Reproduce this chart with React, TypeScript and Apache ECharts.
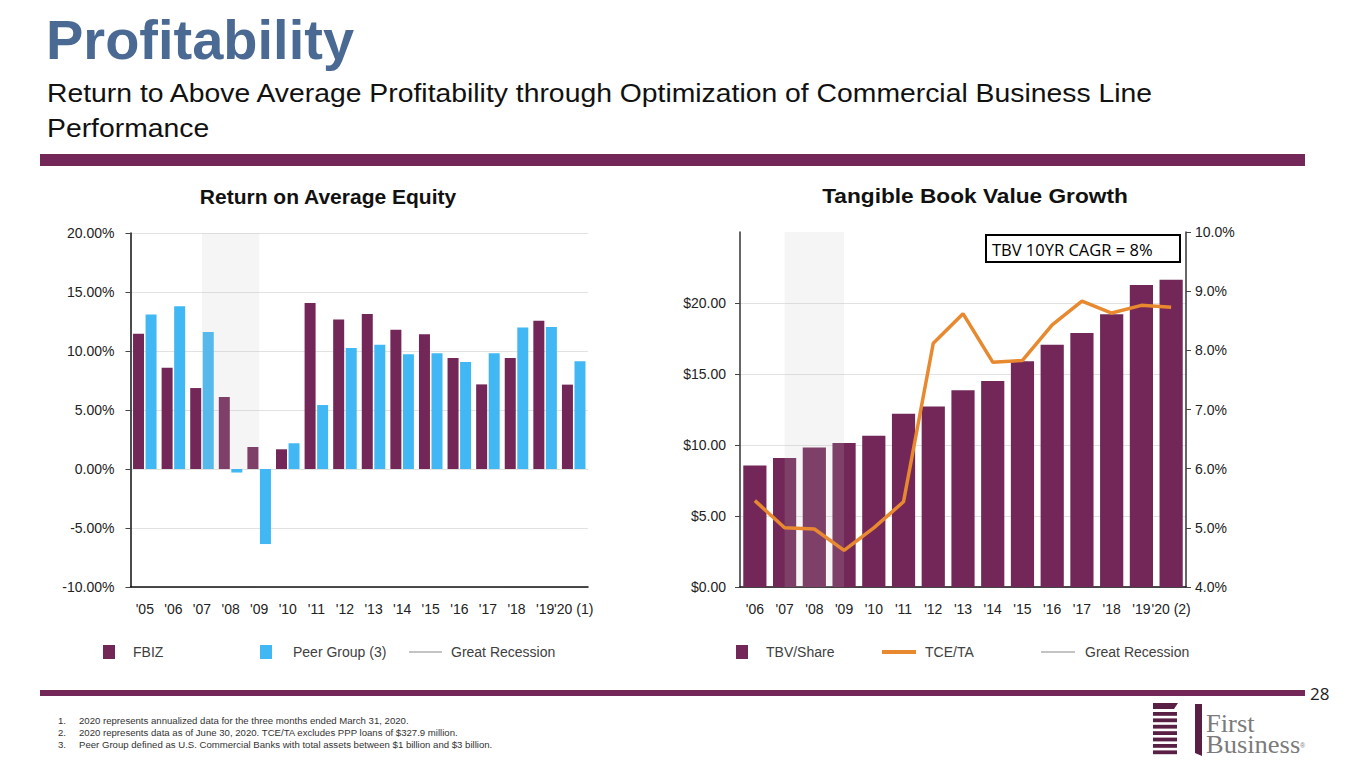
import React, { useEffect, useRef } from "react";
import * as echarts from "echarts";

// ---------- data ----------
const roaeYears = ["'05", "'06", "'07", "'08", "'09", "'10", "'11", "'12", "'13", "'14", "'15", "'16", "'17", "'18", "'19", "'20 (1)"];
const fbizRoae = [11.47, 8.59, 6.86, 6.1, 1.86, 1.67, 14.07, 12.68, 13.14, 11.81, 11.41, 9.41, 7.17, 9.41, 12.57, 7.15];
const peerRoae = [13.1, 13.8, 11.6, -0.3, -6.36, 2.18, 5.42, 10.25, 10.54, 9.72, 9.8, 9.07, 9.8, 12.0, 12.03, 9.13];

const tbvYears = ["'06", "'07", "'08", "'09", "'10", "'11", "'12", "'13", "'14", "'15", "'16", "'17", "'18", "'19", "'20 (2)"];
const tbvShare = [8.56, 9.08, 9.83, 10.14, 10.65, 12.2, 12.72, 13.85, 14.5, 15.89, 17.06, 17.89, 19.2, 21.27, 21.64];
const tceTa = [5.46, 5.0, 4.98, 4.62, 5.0, 5.44, 8.12, 8.62, 7.8, 7.83, 8.43, 8.83, 8.63, 8.76, 8.73];

const recessionStart = "'07";
const recessionEnd = "'09";

const footnotes = [
  "2020 represents annualized data for the three months ended March 31, 2020.",
  "2020 represents data as of June 30, 2020. TCE/TA excludes PPP loans of $327.9 million.",
  "Peer Group defined as U.S. Commercial Banks with total assets between $1 billion and $3 billion.",
];

// ---------- styles ----------
const PURPLE = "#722758";
const BLUE = "#41b8f4";
const ORANGE = "#e8892f";
const GRID = "#e2e2e2";
const FONT = '"Liberation Sans", Arial, Helvetica, sans-serif';

export default function App() {
  const ref = useRef<HTMLDivElement>(null);

  useEffect(() => {
    if (!ref.current) return;
    const chart = echarts.init(ref.current, undefined, { renderer: "svg" });

    const legendText = { fontSize: 14, color: "#404040", fontFamily: FONT };
    const bandStyle = { color: "rgb(190,190,190)", opacity: 0.16 };
    const legendBase = { top: 645, padding: 0, icon: "rect", selectedMode: false };

    const stripes: any[] = [];
    for (let i = 0; i < 7; i++) {
      stripes.push({
        type: "rect",
        shape: { x: 1153, y: 712 + i * 6.4, width: 24, height: 3.8 },
        style: { fill: "#5a1f44" },
      });
    }

    const option: any = {
      animation: false,
      textStyle: { fontFamily: FONT },
      graphic: [
        {
          type: "text",
          x: 46,
          y: 39,
          style: { text: "Profitability", font: `bold 56px ${FONT}`, fill: "#4a6a94", align: "left", verticalAlign: "middle" },
        },
        {
          type: "text",
          x: 47,
          y: 93,
          scaleX: 1.09,
          style: {
            text: "Return to Above Average Profitability through Optimization of Commercial Business Line",
            font: `26px ${FONT}`,
            fill: "#111",
            align: "left",
            verticalAlign: "middle",
          },
        },
        {
          type: "text",
          x: 47,
          y: 128,
          scaleX: 1.09,
          style: { text: "Performance", font: `26px ${FONT}`, fill: "#111", align: "left", verticalAlign: "middle" },
        },
        { type: "rect", shape: { x: 40, y: 154, width: 1265, height: 12 }, style: { fill: PURPLE } },
        {
          type: "text",
          x: 328,
          y: 196,
          style: { text: "Return on Average Equity", font: `bold 21px ${FONT}`, fill: "#111", align: "center", verticalAlign: "middle" },
        },
        {
          type: "text",
          x: 975,
          y: 196,
          scaleX: 1.08,
          style: { text: "Tangible Book Value Growth", font: `bold 21px ${FONT}`, fill: "#111", align: "center", verticalAlign: "middle" },
        },
        {
          type: "rect",
          shape: { x: 986, y: 235, width: 194, height: 27 },
          style: { fill: "#fff", stroke: "#000", lineWidth: 2 },
          z: 100,
        },
        {
          type: "text",
          x: 992,
          y: 249,
          z: 101,
          style: { text: "TBV 10YR CAGR = 8%", font: `16.5px "Open Sans", "Noto Sans", sans-serif`, fill: "#000", align: "left", verticalAlign: "middle" },
        },
        { type: "rect", shape: { x: 40, y: 690, width: 1265, height: 6 }, style: { fill: PURPLE } },
        {
          type: "text",
          x: 1310,
          y: 693,
          style: { text: "28", font: `17px "Open Sans", "Noto Sans", sans-serif`, fill: "#222", align: "left", verticalAlign: "middle" },
        },
        ...footnotes.flatMap((t, i) => [
          {
            type: "text",
            x: 58,
            y: 720 + i * 12,
            style: { text: `${i + 1}.`, font: `9.6px ${FONT}`, fill: "#333", align: "left", verticalAlign: "middle" },
          },
          {
            type: "text",
            x: 79,
            y: 720 + i * 12,
            style: { text: t, font: `9.6px ${FONT}`, fill: "#333", align: "left", verticalAlign: "middle" },
          },
        ]),
        // logo
        {
          type: "polygon",
          shape: { points: [[1153, 703], [1178, 703], [1174, 709], [1153, 709]] },
          style: { fill: "#5a1f44" },
        },
        ...stripes,
        {
          type: "polygon",
          shape: { points: [[1195, 704], [1202, 704], [1202, 756], [1195, 753]] },
          style: { fill: "#5a1f44" },
        },
        {
          type: "text",
          x: 1206,
          y: 734,
          scaleX: 1.06,
          style: {
            text: "First\nBusiness",
            font: `25px "Liberation Serif", "DejaVu Serif", serif`,
            lineHeight: 21,
            fill: "#7b7b7b",
            align: "left",
            verticalAlign: "middle",
          },
        },
        {
          type: "text",
          x: 1300,
          y: 745,
          style: { text: "®", font: `7px ${FONT}`, fill: "#7b7b7b", align: "left", verticalAlign: "middle" },
        },
      ],
      legend: [
        { ...legendBase, data: ["FBIZ"], left: 103, itemWidth: 12, itemHeight: 14, textStyle: { ...legendText, padding: [0, 0, 0, 13] } },
        { ...legendBase, data: ["Peer Group (3)"], left: 260, itemWidth: 12, itemHeight: 14, textStyle: { ...legendText, padding: [0, 0, 0, 16] } },
        { ...legendBase, data: ["Great Recession"], left: 409, itemWidth: 33, itemHeight: 2, textStyle: { ...legendText, padding: [0, 0, 0, 4] } },
        { ...legendBase, data: ["TBV/Share"], left: 736, itemWidth: 12, itemHeight: 14, textStyle: { ...legendText, padding: [0, 0, 0, 13] } },
        { ...legendBase, data: ["TCE/TA"], left: 882, itemWidth: 34, itemHeight: 4, textStyle: { ...legendText, padding: [0, 0, 0, 4] } },
        { ...legendBase, data: ["Great Recession "], left: 1041, itemWidth: 34, itemHeight: 2, textStyle: { ...legendText, padding: [0, 0, 0, 5] } },
      ],
      grid: [
        { left: 130.5, right: 777, top: 233, bottom: 181 },
        { left: 740, right: 179, top: 232, bottom: 181 },
      ],
      xAxis: [
        {
          gridIndex: 0,
          type: "category",
          data: roaeYears,
          axisLine: { onZero: false, lineStyle: { color: "#111", width: 1.5 } },
          axisTick: { alignWithLabel: true, length: 6, lineStyle: { color: "#444" } },
          axisLabel: { interval: 0, color: "#222", fontSize: 14, margin: 15 },
        },
        {
          gridIndex: 1,
          type: "category",
          data: tbvYears,
          axisLine: { onZero: false, lineStyle: { color: "#111", width: 1.5 } },
          axisTick: { alignWithLabel: true, length: 6, lineStyle: { color: "#444" } },
          axisLabel: { interval: 0, color: "#222", fontSize: 14, margin: 15 },
        },
      ],
      yAxis: [
        {
          gridIndex: 0,
          type: "value",
          min: -10,
          max: 20,
          interval: 5,
          axisLine: { show: true, lineStyle: { color: "#111", width: 1.5 } },
          axisTick: { show: true, length: 5, lineStyle: { color: "#444" } },
          axisLabel: { color: "#222", fontSize: 14, margin: 16, formatter: (v: number) => v.toFixed(2) + "%" },
          splitLine: { lineStyle: { color: GRID } },
        },
        {
          gridIndex: 1,
          type: "value",
          position: "left",
          min: 0,
          max: 25,
          interval: 5,
          axisLine: { show: true, lineStyle: { color: "#333", width: 1.5 } },
          axisTick: { show: true, length: 5, lineStyle: { color: "#444" } },
          axisLabel: {
            color: "#222",
            fontSize: 14,
            margin: 14,
            showMaxLabel: false,
            formatter: (v: number) => (v >= 25 ? "" : "$" + v.toFixed(2)),
          },
          splitLine: { lineStyle: { color: GRID }, showMaxLine: false },
        },
        {
          gridIndex: 1,
          type: "value",
          position: "right",
          min: 4,
          max: 10,
          interval: 1,
          axisLine: { show: true, lineStyle: { color: "#333", width: 1.5 } },
          axisTick: { show: true, length: 5, lineStyle: { color: "#444" } },
          axisLabel: { color: "#222", fontSize: 14, margin: 9, formatter: (v: number) => v.toFixed(1) + "%" },
          splitLine: { show: false },
        },
      ],
      series: [
        {
          name: "FBIZ",
          type: "bar",
          xAxisIndex: 0,
          yAxisIndex: 0,
          data: fbizRoae,
          barWidth: 11,
          barGap: "14%",
          itemStyle: { color: PURPLE },
        },
        {
          name: "Peer Group (3)",
          type: "bar",
          xAxisIndex: 0,
          yAxisIndex: 0,
          data: peerRoae,
          barWidth: 11,
          barGap: "14%",
          itemStyle: { color: BLUE },
        },
        {
          name: "Great Recession",
          type: "line",
          xAxisIndex: 0,
          yAxisIndex: 0,
          data: [],
          symbol: "none",
          z: 10,
          itemStyle: { color: "#c4c4c4" },
          lineStyle: { color: "#c4c4c4" },
          markArea: {
            z: 10,
            silent: true,
            itemStyle: bandStyle,
            data: [[
              { xAxis: roaeYears.indexOf(recessionStart), yAxis: 0 },
              { xAxis: roaeYears.indexOf(recessionEnd), yAxis: 20 },
            ]],
          },
        },
        {
          name: "TBV/Share",
          type: "bar",
          xAxisIndex: 1,
          yAxisIndex: 1,
          data: tbvShare,
          barCategoryGap: "22%",
          itemStyle: { color: PURPLE },
        },
        {
          name: "TCE/TA",
          type: "line",
          xAxisIndex: 1,
          yAxisIndex: 2,
          data: tceTa,
          symbol: "none",
          z: 12,
          itemStyle: { color: ORANGE },
          lineStyle: { color: ORANGE, width: 3.5 },
        },
        {
          name: "Great Recession ",
          type: "line",
          xAxisIndex: 1,
          yAxisIndex: 1,
          data: [],
          symbol: "none",
          z: 10,
          itemStyle: { color: "#c4c4c4" },
          lineStyle: { color: "#c4c4c4" },
          markArea: {
            z: 10,
            silent: true,
            itemStyle: bandStyle,
            data: [[
              { xAxis: tbvYears.indexOf(recessionStart), yAxis: 0 },
              { xAxis: tbvYears.indexOf(recessionEnd), yAxis: 25 },
            ]],
          },
        },
      ],
    };

    chart.setOption(option);
    return () => chart.dispose();
  }, []);

  return (
    <div
      ref={ref}
      style={{ position: "fixed", left: 0, top: 0, width: 1365, height: 768, background: "#fff" }}
    />
  );
}
